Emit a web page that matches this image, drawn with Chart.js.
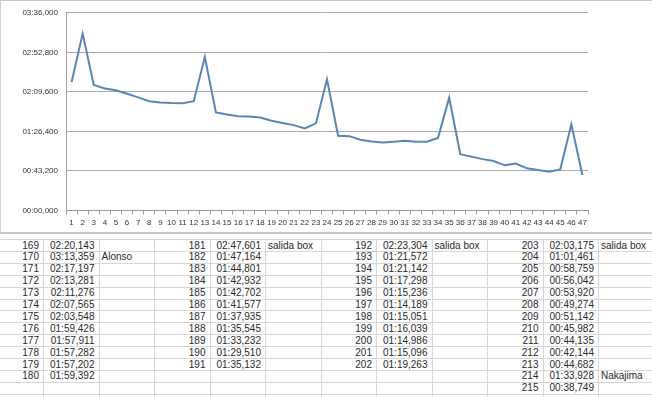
<!DOCTYPE html>
<html>
<head>
<meta charset="utf-8">
<script src="https://cdn.jsdelivr.net/npm/chart.js@4.4.1/dist/chart.umd.min.js"></script>
<style>
    body { margin: 0; background: #fff; width: 652px; height: 397px; overflow: hidden; position: relative;
           font-family: "Liberation Sans", Arial, sans-serif; }
    #marco { position: absolute; left: 0; top: 0; width: 652px; height: 234px; box-sizing: border-box;
             border-top: 1px solid #c9c9c9; border-left: 1px solid #d2d2d2; border-bottom: 2px solid #c6c6c6; }
    #graficoVueltas { position: absolute; left: 0; top: 0; }
    .linea { position: absolute; background: #d6d6d6; }
    .celda { position: absolute; font-size: 10px; color: #2a2a2a; white-space: nowrap; line-height: 12px; }
</style>
</head>
<body>
<div id="marco"></div>
<canvas id="graficoVueltas" width="652" height="232"></canvas>
<div id="tabla"></div>

<script>
// ==================== DATOS ====================
const vueltas = [169, 170, 171, 172, 173, 174, 175, 176, 177, 178, 179, 180,
    181, 182, 183, 184, 185, 186, 187, 188, 189, 190, 191,
    192, 193, 194, 195, 196, 197, 198, 199, 200, 201, 202,
    203, 204, 205, 206, 207, 208, 209, 210, 211, 212, 213, 214, 215];

const tiempos = ['02:20,143', '03:13,359', '02:17,197', '02:13,281', '02:11,276', '02:07,565',
    '02:03,548', '01:59,426', '01:57,911', '01:57,282', '01:57,202', '01:59,392',
    '02:47,601', '01:47,164', '01:44,801', '01:42,932', '01:42,702', '01:41,577',
    '01:37,935', '01:35,545', '01:33,232', '01:29,510', '01:35,132',
    '02:23,304', '01:21,572', '01:21,142', '01:17,298', '01:15,236', '01:14,189',
    '01:15,051', '01:16,039', '01:14,986', '01:15,096', '01:19,263',
    '02:03,175', '01:01,461', '00:58,759', '00:56,042', '00:53,920', '00:49,274',
    '00:51,142', '00:45,982', '00:44,135', '00:42,144', '00:44,682', '01:33,928', '00:38,749'];

const vueltasNota = [170, 181, 192, 203, 214];
const textosNota = ['Alonso', 'salida box', 'salida box', 'salida box', 'Nakajima'];

// primera vuelta de cada bloque de la hoja
const inicioBloques = [169, 181, 192, 203];

const etiquetasX = ['1', '2', '3', '4', '5', '6', '7', '8', '9', '10', '11', '12', '13', '14', '15', '16',
    '17', '18', '19', '20', '21', '22', '23', '24', '25', '26', '27', '28', '29', '30', '31', '32',
    '33', '34', '35', '36', '37', '38', '39', '40', '41', '42', '43', '44', '45', '46', '47'];

const ticksY = [0, 43.2, 86.4, 129.6, 172.8, 216];
const etiquetasY = ['00:00,000', '00:43,200', '01:26,400', '02:09,600', '02:52,800', '03:36,000'];

// ==================== FUNCIONES ====================
function aSegundos(t) {
    const partes = t.split(':');
    return parseInt(partes[0], 10) * 60 + parseFloat(partes[1].replace(',', '.'));
}

function crearGrafico() {
    const ctx = document.getElementById('graficoVueltas').getContext('2d');
    const fuente = { family: '"Liberation Sans", Arial, sans-serif', size: 8 };

    new Chart(ctx, {
        type: 'line',
        data: {
            labels: etiquetasX,
            datasets: [{
                data: tiempos.map(aSegundos),
                borderColor: '#5a86b2',
                borderWidth: 2,
                pointRadius: 0,
                tension: 0,
                fill: false
            }]
        },
        options: {
            responsive: false,
            animation: false,
            layout: { padding: { left: 0, right: 64, top: 10, bottom: 0 } },
            plugins: { legend: { display: false }, tooltip: { enabled: false } },
            scales: {
                x: {
                    offset: true,
                    grid: { offset: true, drawOnChartArea: false, drawTicks: true, tickLength: 4, color: '#9a9a9a' },
                    border: { color: '#9a9a9a' },
                    ticks: { autoSkip: false, maxRotation: 0, padding: 4, color: '#333', font: fuente }
                },
                y: {
                    min: 0,
                    max: 216,
                    afterBuildTicks: (eje) => { eje.ticks = ticksY.map(v => ({ value: v })); },
                    afterFit: (eje) => { eje.width = 66; },
                    grid: { color: '#ababab', drawTicks: false },
                    border: { color: '#a3a3a3' },
                    ticks: {
                        padding: 8, color: '#333', font: fuente,
                        callback: (v, i) => etiquetasY[i]
                    }
                }
            }
        }
    });
}

function crearTabla() {
    const tabla = document.getElementById('tabla');
    const anchoCol = 55.5, altoFila = 11.9, x0 = -12.5, y0 = 239;
    let html = '';

    // lineas de la hoja
    for (let r = 0; r <= 14; r++) {
        html += `<div class="linea" style="left:0;top:${(y0 + r * altoFila).toFixed(1)}px;width:652px;height:1px"></div>`;
    }
    for (let c = 1; c <= 11; c++) {
        html += `<div class="linea" style="left:${(x0 + c * anchoCol).toFixed(1)}px;top:${y0}px;width:1px;height:${397 - y0}px"></div>`;
    }

    for (let i = 0; i < vueltas.length; i++) {
        let bloque = 0;
        for (let b = 0; b < inicioBloques.length; b++) {
            if (vueltas[i] >= inicioBloques[b]) bloque = b;
        }
        const fila = vueltas[i] - inicioBloques[bloque];
        const top = y0 + fila * altoFila + 0.5;
        const colNum = x0 + bloque * 3 * anchoCol;

        html += `<div class="celda" style="left:${colNum}px;top:${top}px;width:${anchoCol - 4}px;text-align:right">${vueltas[i]}</div>`;
        html += `<div class="celda" style="left:${colNum + anchoCol}px;top:${top}px;width:${anchoCol - 4}px;text-align:right">${tiempos[i]}</div>`;

        const idx = vueltasNota.indexOf(vueltas[i]);
        if (idx >= 0) {
            html += `<div class="celda" style="left:${colNum + 2 * anchoCol + 3}px;top:${top}px">${textosNota[idx]}</div>`;
        }
    }
    tabla.innerHTML = html;
}

crearGrafico();
crearTabla();
</script>
</body>
</html>
